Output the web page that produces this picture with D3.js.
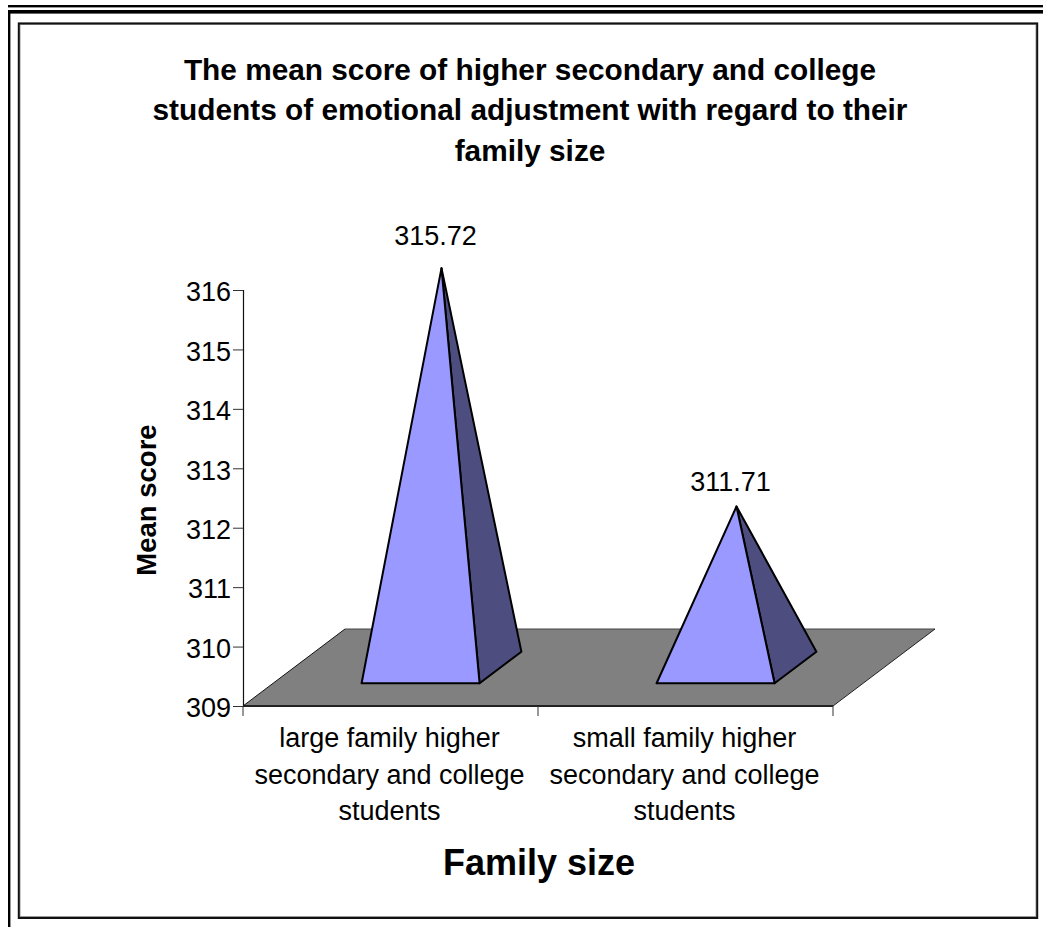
<!DOCTYPE html>
<html>
<head>
<meta charset="utf-8">
<script src="https://cdn.jsdelivr.net/npm/d3@7"></script>
<style>
html,body{margin:0;padding:0;background:#fff;}
svg{display:block;}
text{font-family:"Liberation Sans",Arial,sans-serif;fill:#000;}
</style>
</head>
<body>
<svg id="chart" width="1043" height="927"></svg>
<script>
// Chart content
const titleLines = [
  "The mean score of higher secondary and college",
  "students of emotional adjustment with regard to their",
  "family size"
];
const categoryIds = ["large", "small"];
const categoryLabels = [
  ["large family higher", "secondary and college", "students"],
  ["small family higher", "secondary and college", "students"]
];
const meanScores = [315.72, 311.71];
const valueLabels = ["315.72", "311.71"];
const yTicks = [309, 310, 311, 312, 313, 314, 315, 316];
const yAxisTitle = "Mean score";
const xAxisTitle = "Family size";

// Plot geometry of the oblique 3D box
const plot = {left: 243, right: 833, bottom: 706, top: 290};
const depthX = 102, depthY = 77;
const barFraction = 0.4, depthFraction = 0.41;

const svg = d3.select("#chart");

// Page rules and the chart frame
const rules = svg.append("g").attr("fill", "#000");
rules.append("rect").attr("x", 8).attr("y", 5).attr("width", 1035).attr("height", 2.4);
rules.append("rect").attr("x", 8).attr("y", 10).attr("width", 1035).attr("height", 3.6);
rules.append("rect").attr("x", 8).attr("y", 10).attr("width", 2.4).attr("height", 917);
svg.append("rect").attr("x", 20).attr("y", 24.5).attr("width", 1016).attr("height", 892)
  .attr("fill", "#fff").attr("stroke", "#999").attr("stroke-width", 1);
svg.append("rect").attr("x", 18.8).attr("y", 23.4).attr("width", 1018.4).attr("height", 894.6)
  .attr("fill", "none").attr("stroke", "#111").attr("stroke-width", 2);

const y = d3.scaleLinear().domain([309, 316]).range([plot.bottom, plot.top]);
const x = d3.scaleBand().domain(categoryIds).range([plot.left, plot.right]);

// Depth d in [0,1] runs from the front edge of the floor to the back wall
const project = (px, py, d) => [px + d * depthX, py - d * depthY];

// Floor
const floorPts = [
  project(plot.left, plot.bottom, 0),
  project(plot.left, plot.bottom, 1),
  project(plot.right, plot.bottom, 1),
  project(plot.right, plot.bottom, 0)
];
svg.append("polygon").attr("points", floorPts.join(" "))
  .attr("fill", "#808080").attr("stroke", "none");
svg.append("path")
  .attr("d", d3.line()([floorPts[0], floorPts[1]]))
  .attr("stroke", "#111").attr("stroke-width", 1).attr("fill", "none");
svg.append("path")
  .attr("d", d3.line()([floorPts[1], floorPts[2]]))
  .attr("stroke", "#444").attr("stroke-width", 1).attr("fill", "none");
svg.append("path")
  .attr("d", d3.line()([floorPts[2], floorPts[3]]))
  .attr("stroke", "#222").attr("stroke-width", 1).attr("fill", "none");
svg.append("path")
  .attr("d", d3.line()([floorPts[3], floorPts[0]]))
  .attr("stroke", "#222").attr("stroke-width", 2).attr("fill", "none");

// Value axis
const yAxis = svg.append("g")
  .attr("transform", `translate(${plot.left},0)`)
  .call(d3.axisLeft(y).tickValues(yTicks).tickSize(10).tickPadding(2).tickFormat(d3.format("d")));
yAxis.select(".domain").attr("stroke", "#111").attr("stroke-width", 1.2);
yAxis.selectAll(".tick line").attr("stroke", "#333");
yAxis.selectAll(".tick text").style("font-size", "27px").attr("dy", "0.4em")
  .style("font-family", '"Liberation Sans",Arial,sans-serif');

// Category tick marks
const xTickPositions = [...categoryIds.map(c => x(c)), plot.right];
svg.append("g").selectAll("line").data(xTickPositions).join("line")
  .attr("x1", d => d).attr("x2", d => d)
  .attr("y1", plot.bottom).attr("y2", plot.bottom + 10)
  .attr("stroke", "#333").attr("stroke-width", 1);

// Pyramids, with each value label lifted a little more over taller marks
const bars = svg.append("g").selectAll("g").data(categoryIds).join("g");
bars.each(function (c, i) {
  const g = d3.select(this);
  const cx = x(c) + x.bandwidth() / 2;
  const half = x.bandwidth() * barFraction / 2;
  const d0 = 0.5 - depthFraction / 2, d1 = 0.5 + depthFraction / 2;
  const frontL = project(cx - half, plot.bottom, d0);
  const frontR = project(cx + half, plot.bottom, d0);
  const backR = project(cx + half, plot.bottom, d1);
  const apex = project(cx, y(meanScores[i]), 0.5);
  const lift = 10 + 0.03 * (plot.bottom - y(meanScores[i]));

  g.append("polygon").attr("points", [frontR, backR, apex].join(" "))
    .attr("fill", "#4d4d80").attr("stroke", "#000").attr("stroke-width", 2)
    .attr("stroke-linejoin", "round");
  g.append("polygon").attr("points", [frontL, frontR, apex].join(" "))
    .attr("fill", "#9999ff").attr("stroke", "#000").attr("stroke-width", 2)
    .attr("stroke-linejoin", "round");
  g.append("text").text(valueLabels[i])
    .attr("x", apex[0] - 6).attr("y", apex[1] - lift - 1)
    .attr("text-anchor", "middle").style("font-size", "27px");
});

// Chart title
svg.append("g").selectAll("text").data(titleLines).join("text")
  .attr("x", 530).attr("y", (d, i) => 79.5 + i * 40.5)
  .attr("text-anchor", "middle")
  .style("font-size", "29.8px").style("font-weight", "bold")
  .text(d => d);

// Category labels
categoryLabels.forEach((lines, i) => {
  svg.append("g").selectAll("text").data(lines).join("text")
    .attr("x", x(categoryIds[i]) + x.bandwidth() / 2 - 1)
    .attr("y", (d, j) => 747 + j * 36.5)
    .attr("text-anchor", "middle")
    .style("font-size", "27px")
    .text(d => d);
});

// Axis titles
svg.append("text").text(xAxisTitle)
  .attr("x", 539).attr("y", 875)
  .attr("text-anchor", "middle")
  .style("font-size", "36px").style("font-weight", "bold");
svg.append("text").text(yAxisTitle)
  .attr("transform", "translate(156,500) rotate(-90)")
  .attr("text-anchor", "middle")
  .style("font-size", "27.5px").style("font-weight", "bold");
</script>
</body>
</html>
